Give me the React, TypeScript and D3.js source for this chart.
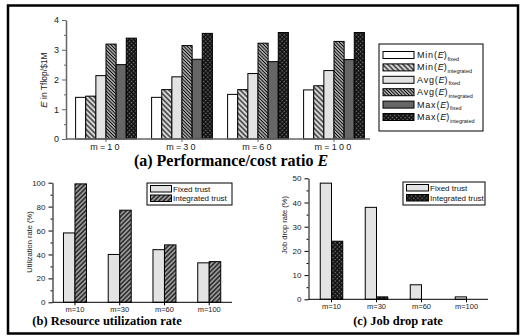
import React, { useEffect, useRef } from "react";
import * as d3 from "d3";

// categories shared by all three panels
const categories = ["m=10", "m=30", "m=60", "m=100"];

// (a) performance/cost ratio E, Tflop/$1M
const minFixed = [1.4, 1.4, 1.5, 1.65];
const minIntegrated = [1.44, 1.66, 1.66, 1.79];
const avgFixed = [2.13, 2.09, 2.2, 2.3];
const avgIntegrated = [3.19, 3.14, 3.22, 3.28];
const maxFixed = [2.5, 2.68, 2.6, 2.67];
const maxIntegrated = [3.39, 3.55, 3.58, 3.58];
const perfTicks = [0, 1, 2, 3, 4];
const perfMinor = [0.5, 1.5, 2.5, 3.5];
const perfLegend = [
  ["Min", "fixed"],
  ["Min", "integrated"],
  ["Avg", "fixed"],
  ["Avg", "integrated"],
  ["Max", "fixed"],
  ["Max", "integrated"],
];

// (b) resource utilization rate (%)
const utilFixed = [58, 40, 44, 33];
const utilIntegrated = [99, 77, 48, 34];
const utilTicks = [0, 20, 40, 60, 80, 100];
const utilMinor = [10, 30, 50, 70, 90];

// (c) job drop rate (%)
const dropFixed = [48, 38, 6, 1];
const dropIntegrated = [24, 1, 0, 0];
const dropTicks = [0, 10, 20, 30, 40, 50];
const dropMinor = [5, 15, 25, 35, 45];

const trustLegend = ["Fixed trust", "Integrated trust"];

const SANS = "Arial, 'Liberation Sans', sans-serif";
const SERIF = "'Times New Roman', 'Liberation Serif', serif";

const perfFills = ["#ffffff", "url(#hatchA)", "#e3e3e3", "url(#hatchB)", "#666666", "url(#checker)"];
const trustFillsB = ["#e3e3e3", "url(#hatchC)"];
const trustFillsC = ["#e3e3e3", "url(#checker)"];

function drawPanel(svg, opt) {
  const g = svg.append("g");
  const x0 = d3.scaleBand().domain(categories).range(opt.xRange)
    .paddingInner(opt.padIn).paddingOuter(opt.padIn / 2);
  const x1 = d3.scaleBand().domain(d3.range(opt.series.length)).range([0, x0.bandwidth()]);
  const y = d3.scaleLinear().domain(opt.yDomain).range(opt.yRange);

  // bars
  opt.series.forEach((vals, si) => {
    g.append("g")
      .selectAll("rect")
      .data(vals.map((v, i) => ({ v, c: categories[i] })).filter(d => d.v > 0))
      .join("rect")
      .attr("x", d => x0(d.c) + x1(si))
      .attr("y", d => y(d.v))
      .attr("width", x1.bandwidth())
      .attr("height", d => y(0) - y(d.v))
      .attr("fill", opt.fills[si])
      .attr("stroke", "#000")
      .attr("stroke-width", 1);
  });

  // y axis
  const yAxis = g.append("g").attr("transform", `translate(${opt.axisX},0)`)
    .call(d3.axisLeft(y).tickValues(opt.ticks).tickFormat(d3.format("d"))
      .tickSize(4).tickSizeOuter(0).tickPadding(3));
  yAxis.selectAll("text").attr("font-family", SANS).attr("font-size", opt.tickFont).attr("fill", "#222");
  yAxis.selectAll("line, path").attr("stroke", opt.axisColor);
  g.append("g").attr("transform", `translate(${opt.axisX},0)`)
    .call(d3.axisLeft(y).tickValues(opt.minor).tickSize(2).tickFormat(() => ""))
    .call(s => s.select(".domain").remove())
    .selectAll("line").attr("stroke", opt.axisColor);

  // x axis
  const xAxis = g.append("g").attr("transform", `translate(0,${y(0)})`)
    .call(d3.axisBottom(x0).tickSize(3).tickPadding(opt.xPad));
  xAxis.select(".domain").remove();
  xAxis.selectAll("line").attr("stroke", opt.axisColor);
  xAxis.selectAll("text").attr("font-family", SANS).attr("font-size", opt.xFont)
    .attr("letter-spacing", opt.xSpacing).attr("fill", "#222");
  g.append("line")
    .attr("x1", opt.axisX).attr("x2", opt.axisEnd)
    .attr("y1", y(0)).attr("y2", y(0))
    .attr("stroke", opt.axisColor).attr("stroke-width", opt.axisWidth);
  yAxis.select(".domain").attr("stroke-width", opt.axisWidth);
  return g;
}

function swatch(g, x, y, w, h, fill) {
  g.append("rect").attr("x", x).attr("y", y).attr("width", w).attr("height", h)
    .attr("fill", fill).attr("stroke", "#000").attr("stroke-width", 1);
}

export default function App() {
  const svgRef = useRef(null);

  useEffect(() => {
    const svg = d3.select(svgRef.current);
    svg.selectAll("*").remove();

    const defs = svg.append("defs");
    const hatch = (id, size, angle, bg, lw) => {
      const p = defs.append("pattern").attr("id", id).attr("patternUnits", "userSpaceOnUse")
        .attr("width", size).attr("height", size).attr("patternTransform", `rotate(${angle})`);
      p.append("rect").attr("width", size).attr("height", size).attr("fill", bg);
      p.append("line").attr("x1", size / 2).attr("x2", size / 2).attr("y1", 0).attr("y2", size)
        .attr("stroke", "#000").attr("stroke-width", lw);
    };
    hatch("hatchA", 3.6, -45, "#d8d8d8", 1.1);
    hatch("hatchB", 2.4, -45, "#b0b0b0", 0.9);
    hatch("hatchC", 3.2, 45, "#9a9a9a", 1.1);
    const ck = defs.append("pattern").attr("id", "checker").attr("patternUnits", "userSpaceOnUse")
      .attr("width", 3).attr("height", 3).attr("patternTransform", "rotate(45)");
    ck.append("rect").attr("width", 3).attr("height", 3).attr("fill", "#111");
    ck.append("rect").attr("width", 1.3).attr("height", 1.3).attr("fill", "#808080");

    // outer frame
    svg.append("rect").attr("x", 8).attr("y", 5.5).attr("width", 510).attr("height", 328)
      .attr("fill", "none").attr("stroke", "#000").attr("stroke-width", 2.5);

    // (a)
    drawPanel(svg, {
      series: [minFixed, minIntegrated, avgFixed, avgIntegrated, maxFixed, maxIntegrated],
      fills: perfFills,
      xRange: [68, 372], padIn: 0.2,
      yDomain: [0, 4], yRange: [139, 20],
      ticks: perfTicks, minor: perfMinor,
      axisX: 66, axisEnd: 370, axisColor: "#666", axisWidth: 1.5,
      tickFont: 9, xFont: 9, xSpacing: 2.2, xPad: 1.5,
    });
    const la = svg.append("g");
    la.append("rect").attr("x", 379).attr("y", 44).attr("width", 104).attr("height", 87)
      .attr("fill", "#fff").attr("stroke", "#000").attr("stroke-width", 1);
    perfLegend.forEach(([name, sub], i) => {
      const cy = 55 + i * 12.4;
      swatch(la, 383, cy - 3.5, 31, 7, perfFills[i]);
      const t = la.append("text").attr("x", 417).attr("y", cy + 3)
        .attr("font-family", SANS).attr("font-size", 9).attr("fill", "#111");
      t.append("tspan").attr("letter-spacing", 0.8).text(name + "(");
      t.append("tspan").attr("font-style", "italic").text("E");
      t.append("tspan").attr("letter-spacing", 0.8).text(")");
      t.append("tspan").attr("font-size", 5.5).attr("dy", 2.5).text(sub);
    });
    const ya = svg.append("text").attr("transform", "translate(47,80) rotate(-90)")
      .attr("text-anchor", "middle").attr("font-family", SANS).attr("font-size", 8.5).attr("fill", "#222");
    ya.append("tspan").attr("font-style", "italic").attr("font-size", 9.5).text("E");
    ya.append("tspan").text(" in Tflop/$1M");
    const ta = svg.append("text").attr("x", 231).attr("y", 166).attr("text-anchor", "middle")
      .attr("font-family", SERIF).attr("font-weight", "bold").attr("font-size", 16);
    ta.append("tspan").text("(a) Performance/cost ratio ");
    ta.append("tspan").attr("font-style", "italic").text("E");

    // (b)
    drawPanel(svg, {
      series: [utilFixed, utilIntegrated],
      fills: trustFillsB,
      xRange: [52.6, 231.6], padIn: 0.486,
      yDomain: [0, 100], yRange: [302.3, 182.7],
      ticks: utilTicks, minor: utilMinor,
      axisX: 52.5, axisEnd: 232, axisColor: "#000", axisWidth: 1,
      tickFont: 8, xFont: 7.5, xSpacing: 0, xPad: 1,
    });
    const lb = svg.append("g");
    lb.append("rect").attr("x", 147).attr("y", 183).attr("width", 85).attr("height", 22)
      .attr("fill", "#fff").attr("stroke", "#000").attr("stroke-width", 1);
    trustLegend.forEach((label, i) => {
      swatch(lb, 150.5, 185.5 + i * 9.5, 21, 6.5, trustFillsB[i]);
      lb.append("text").attr("x", 173).attr("y", 191.5 + i * 9.5)
        .attr("font-family", SANS).attr("font-size", 8).attr("fill", "#111").text(label);
    });
    svg.append("text").attr("transform", "translate(32,242) rotate(-90)").attr("text-anchor", "middle")
      .attr("font-family", SANS).attr("font-size", 7.5).attr("fill", "#222").text("Utilization rate (%)");
    svg.append("text").attr("x", 107).attr("y", 325).attr("text-anchor", "middle")
      .attr("font-family", SERIF).attr("font-weight", "bold").attr("font-size", 12.5)
      .text("(b) Resource utilization rate");

    // (c)
    drawPanel(svg, {
      series: [dropFixed, dropIntegrated],
      fills: trustFillsC,
      xRange: [309, 489], padIn: 0.5,
      yDomain: [0, 50], yRange: [299.3, 178.3],
      ticks: dropTicks, minor: dropMinor,
      axisX: 308.5, axisEnd: 488, axisColor: "#000", axisWidth: 1,
      tickFont: 8, xFont: 7.5, xSpacing: 0, xPad: 1,
    });
    const lc = svg.append("g");
    lc.append("rect").attr("x", 403).attr("y", 182).attr("width", 82).attr("height", 23)
      .attr("fill", "#fff").attr("stroke", "#000").attr("stroke-width", 1);
    trustLegend.forEach((label, i) => {
      swatch(lc, 406.5, 184.5 + i * 10, 22, 6.5, trustFillsC[i]);
      lc.append("text").attr("x", 430).attr("y", 190.5 + i * 10)
        .attr("font-family", SANS).attr("font-size", 8).attr("fill", "#111").text(label);
    });
    svg.append("text").attr("transform", "translate(287,225) rotate(-90)").attr("text-anchor", "middle")
      .attr("font-family", SANS).attr("font-size", 7.5).attr("fill", "#222").text("Job drop rate (%)");
    svg.append("text").attr("x", 398).attr("y", 325).attr("text-anchor", "middle")
      .attr("font-family", SERIF).attr("font-weight", "bold").attr("font-size", 12.5)
      .text("(c) Job drop rate");
  }, []);

  return (
    <svg ref={svgRef} width={529} height={336}
      style={{ position: "absolute", left: 0, top: 0, background: "#fff" }} />
  );
}
